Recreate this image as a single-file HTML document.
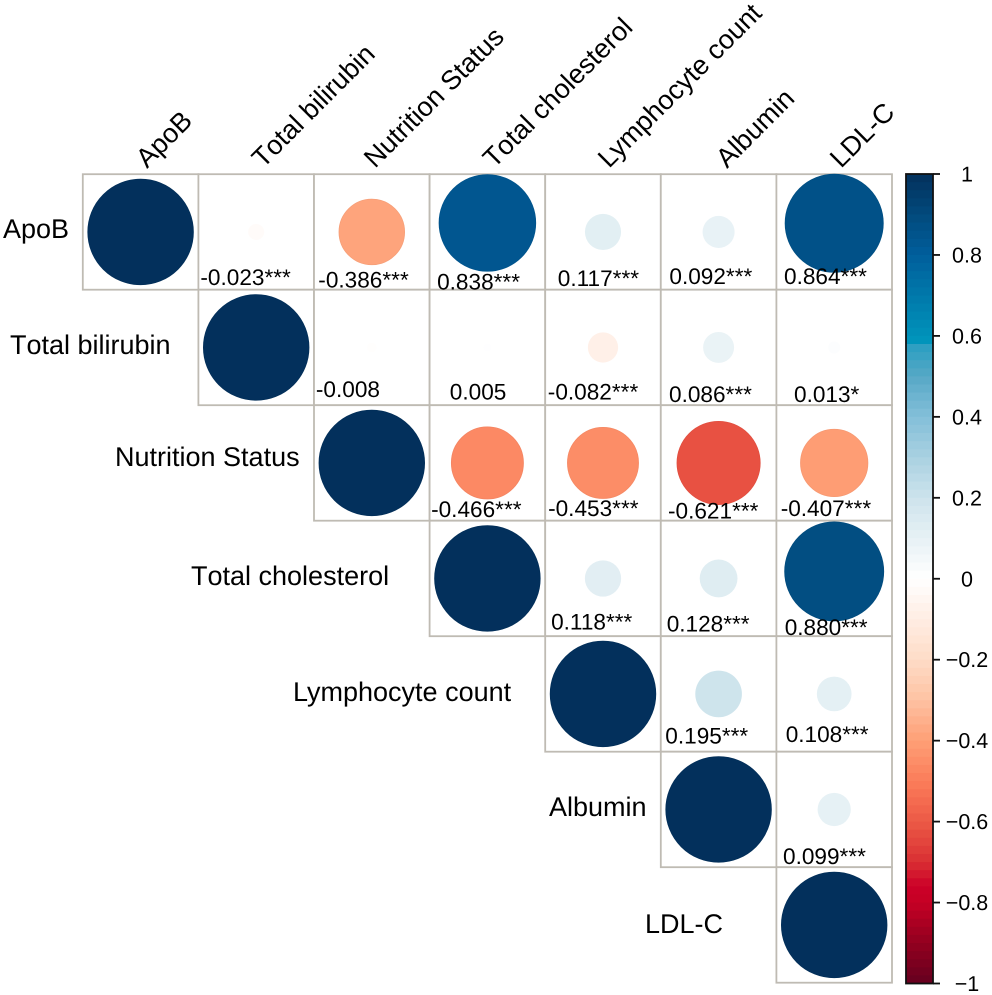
<!DOCTYPE html>
<html>
<head>
<meta charset="utf-8">
<title>Correlation matrix</title>
<style>
html,body{margin:0;padding:0;background:#fff;width:992px;height:995px;overflow:hidden}
svg{display:block}
text{font-family:"Liberation Sans",Arial,sans-serif;fill:#000;text-rendering:geometricPrecision}
</style>
</head>
<body>
<svg id="chart" xmlns="http://www.w3.org/2000/svg" width="992" height="995" viewBox="0 0 992 995"></svg>
<script>
// ---- data ----
const variables = ["ApoB", "Total bilirubin", "Nutrition Status", "Total cholesterol", "Lymphocyte count", "Albumin", "LDL-C"];
const rowApoB = [1, -0.023, -0.386, 0.838, 0.117, 0.092, 0.864];
const rowBilirubin = [1, -0.008, 0.005, -0.082, 0.086, 0.013];
const rowNutrition = [1, -0.466, -0.453, -0.621, -0.407];
const rowCholesterol = [1, 0.118, 0.128, 0.880];
const rowLymphocyte = [1, 0.195, 0.108];
const rowAlbumin = [1, 0.099];
const rowLDL = [1];
const starsApoB = ["", "***", "***", "***", "***", "***", "***"];
const starsBilirubin = ["", "", "", "***", "***", "*"];
const starsNutrition = ["", "***", "***", "***", "***"];
const starsCholesterol = ["", "***", "***", "***"];
const starsLymphocyte = ["", "***", "***"];
const starsAlbumin = ["", "***"];
const starsLDL = [""];
const colorbarTicks = [1, 0.8, 0.6, 0.4, 0.2, 0, -0.2, -0.4, -0.6, -0.8, -1];

// ---- layout / style (not data) ----
const matrix = [rowApoB, rowBilirubin, rowNutrition, rowCholesterol, rowLymphocyte, rowAlbumin, rowLDL];
const stars = [starsApoB, starsBilirubin, starsNutrition, starsCholesterol, starsLymphocyte, starsAlbumin, starsLDL];
const GRID_X = 82.8, GRID_Y = 174.2, CELL_W = 115.6, CELL_H = 115.5, MAX_R = 52.8;
const BAR_X = 906, BAR_W = 27, BAR_TOP = 174, BAR_BOTTOM = 983.5;
const LABEL_SIZE = 27, VALUE_SIZE = 22.6;
// colour ramp sampled from the colour bar: [level, hex]
const ramp = [[1,"#03305c"],[0.9,"#024a7c"],[0.8,"#005e9c"],[0.7,"#0079aa"],[0.58,"#0096bc"],[0.57,"#2e9fc2"],[0.5,"#56a8c6"],[0.4,"#83bfd9"],[0.3,"#a9d1e1"],[0.2,"#cde3ec"],[0.1,"#e6f1f5"],[0,"#ffffff"],[-0.1,"#ffede3"],[-0.2,"#fedcc7"],[-0.3,"#fec2a2"],[-0.4,"#fe9f76"],[-0.5,"#fb7d5a"],[-0.6,"#ec5a46"],[-0.7,"#d92f33"],[-0.76,"#cc0028"],[-0.8,"#c50024"],[-0.9,"#92001f"],[-1,"#66001f"]];
// hand placement of the printed values relative to each cell's top-left corner
const textNudge = {
 "0,1":[2.8,111],"0,2":[5.1,113.3],"0,3":[8.3,115.3],"0,4":[13.4,112],"0,5":[9.4,110],"0,6":[8.4,110],
 "1,2":[2.7,107.2],"1,3":[21,109.8],"1,4":[3.4,109.8],"1,5":[9,112.2],"1,6":[18.4,112.2],
 "2,3":[2.3,111.7],"2,4":[3.7,111],"2,5":[8,113.3],"2,6":[5.1,111],
 "3,4":[6.7,108.8],"3,5":[6.7,110.8],"3,6":[9.1,114.5],
 "4,5":[5.3,107.3],"4,6":[10.1,105.7],
 "5,6":[7.4,112.5]
};
// large circles sit higher than their cell centre
const circleLift = {"0,3":9,"0,6":8.7,"3,6":7};
const rowLabelPos = [[3,238],[10,354],[115,466],[191,585],[293,701],[549,816],[645,933]];
const topLabelPos = [[147,169],[263,169],[375,169],[494,169],[609,169],[727,169],[841,169]];

// ---- axis functions ----
const xCell = i => GRID_X + i * CELL_W;
const yCell = i => GRID_Y + i * CELL_H;
const radius = v => MAX_R * Math.sqrt(Math.abs(v));
const yBar = v => BAR_TOP + (1 - v) / 2 * (BAR_BOTTOM - BAR_TOP);
function hex2rgb(h){return [1,3,5].map(k=>parseInt(h.substr(k,2),16));}
function rgbOf(v){
  v = Math.max(-1, Math.min(1, v));
  for (let k = 0; k < ramp.length - 1; k++) {
    const a = ramp[k], b = ramp[k + 1];
    if (v <= a[0] && v >= b[0]) {
      const t = (a[0] - v) / (a[0] - b[0]);
      const ca = hex2rgb(a[1]), cb = hex2rgb(b[1]);
      return ca.map((c, n) => c + (cb[n] - c) * t);
    }
  }
  return [255, 255, 255];
}
const css = c => "rgb(" + c.map(x => Math.round(x)).join(",") + ")";
const svg = document.getElementById("chart");
function mk(tag, attrs, txt){
  const el = document.createElementNS("http://www.w3.org/2000/svg", tag);
  for (const k in attrs) el.setAttribute(k, attrs[k]);
  if (txt !== undefined) el.textContent = txt;
  svg.appendChild(el);
  return el;
}
const slug = s => s.toLowerCase().replace(/[^a-z0-9]+/g, "-");
const kernStyle = name => name.indexOf("Total") === 0 ? "font-kerning:none" : "";

// cell borders
matrix.forEach((row, r) => row.forEach((v, k) => {
  const c = r + k;
  const el = mk("rect", {x: xCell(c), y: yCell(r), width: CELL_W, height: CELL_H, fill: "#fff", stroke: "#bfbbb3", "stroke-width": 1.8});
  
  
}));

// circles
matrix.forEach((row, r) => row.forEach((v, k) => {
  const c = r + k;
  const col = rgbOf(v);
  const lift = circleLift[r + "," + c] || 0;
  const el = mk("circle", {
    cx: xCell(c) + CELL_W / 2, cy: yCell(r) + CELL_H / 2 - lift, r: radius(v),
    fill: css(col), stroke: Math.abs(v) > 0.3 ? css(col.map(x => x * 0.97)) : "none", "stroke-width": 0.8
  });
  
  
}));

// printed values
matrix.forEach((row, r) => row.forEach((v, k) => {
  if (k === 0) return;
  const c = r + k;
  const n = textNudge[r + "," + c] || [5, 110];
  const el = mk("text", {x: xCell(c) + n[0] - 0.8, y: yCell(r) + n[1], "font-size": VALUE_SIZE}, v.toFixed(3) + stars[r][k]);
  
  
}));

// row labels
variables.forEach((name, i) => {
  const el = mk("text", {x: rowLabelPos[i][0], y: rowLabelPos[i][1], "font-size": LABEL_SIZE, style: kernStyle(name)}, name);
  
  
});

// column labels
variables.forEach((name, i) => {
  const p = topLabelPos[i];
  const el = mk("text", {x: p[0], y: p[1], "font-size": LABEL_SIZE, style: kernStyle(name), transform: "rotate(-45 " + p[0] + " " + p[1] + ")"}, name);
  
  
});

// colour bar bands
const BANDS = 100;
for (let b = 0; b < BANDS; b++) {
  const hi = 1 - b * 2 / BANDS, lo = hi - 2 / BANDS;
  const el = mk("rect", {x: BAR_X, y: yBar(hi), width: BAR_W, height: yBar(lo) - yBar(hi) + 0.5, fill: css(rgbOf((hi + lo) / 2))});
  
  
}
const frame = mk("rect", {x: BAR_X, y: BAR_TOP, width: BAR_W, height: BAR_BOTTOM - BAR_TOP, fill: "none", stroke: "#111", "stroke-width": 1.8});



// colour bar ticks & labels
colorbarTicks.forEach(t => {
  const tick = mk("line", {x1: BAR_X + BAR_W, x2: BAR_X + BAR_W + 7, y1: yBar(t), y2: yBar(t), stroke: "#111", "stroke-width": 1.8});
  
  
  const label = mk("text", {x: 967, y: yBar(t) + 7.5, "font-size": 21.5, "text-anchor": "middle"}, String(t).replace("-", "\u2212"));
  
  
});
</script>
</body>
</html>
